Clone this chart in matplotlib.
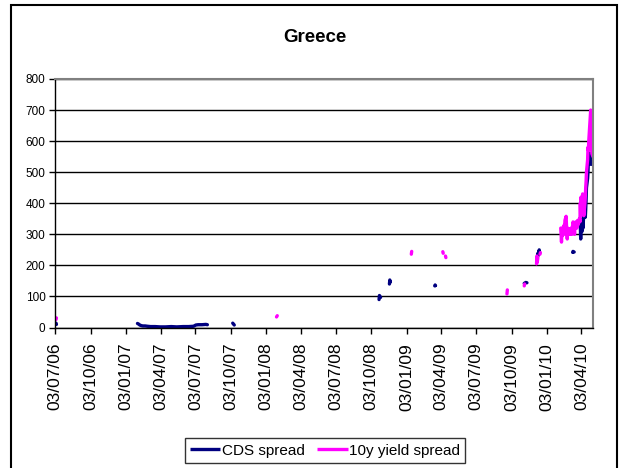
import numpy as np
import pandas as pd
import matplotlib
matplotlib.use("Agg")
import matplotlib.pyplot as plt
import matplotlib.dates as mdates
from matplotlib.patches import Rectangle

plt.rcParams['font.family'] = ['Liberation Sans', 'DejaVu Sans']

GAP = None  # breaks the line between separate stretches of quotes

cds_dates = [
    "2006-07-05", "2006-07-06", GAP,
    "2007-02-02", "2007-02-05", "2007-02-08", "2007-02-12", "2007-02-16",
    "2007-02-22", "2007-02-28", "2007-03-08", "2007-03-20", "2007-04-02",
    "2007-04-16", "2007-05-01", "2007-05-15", "2007-06-01", "2007-06-15",
    "2007-06-28", "2007-07-04", "2007-07-10", "2007-07-20", "2007-07-30",
    "2007-08-03", GAP,
    "2007-10-08", "2007-10-10", "2007-10-12", GAP,
    "2008-10-23", "2008-10-24", "2008-10-27", GAP,
    "2008-11-19", "2008-11-20", "2008-11-21", GAP,
    "2009-03-17", "2009-03-18", "2009-03-19", GAP,
    "2009-11-05", "2009-11-09", "2009-11-12", GAP,
    "2009-12-09", "2009-12-10", "2009-12-11", "2009-12-14", "2009-12-15", GAP,
    "2010-03-11", "2010-03-12", "2010-03-15", GAP,
    "2010-03-31", "2010-04-01", "2010-04-02", "2010-04-05", "2010-04-06",
    "2010-04-07", "2010-04-08", "2010-04-09", "2010-04-12", "2010-04-13",
    "2010-04-14", "2010-04-15", "2010-04-16", "2010-04-19", "2010-04-20",
    "2010-04-21", "2010-04-22", "2010-04-23", "2010-04-26", "2010-04-27",
    "2010-04-28", "2010-04-29", "2010-04-30",
]
cds_values = [
    14, 10, GAP,
    13, 11, 8, 6, 5,
    5, 4, 3, 3, 2,
    2, 3, 2, 3, 3,
    4, 8, 9, 9, 10,
    9, GAP,
    14, 11, 8, GAP,
    90, 103, 97, GAP,
    140, 153, 146, GAP,
    134, 137, 135, GAP,
    142, 145, 144, GAP,
    212, 238, 232, 250, 240, GAP,
    242, 245, 243, GAP,
    330, 285, 340, 310, 350,
    320, 345, 360, 390, 355,
    380, 410, 450, 480, 500,
    540, 560, 530, 560, 545,
    525, 550, 530,
]

yield_dates = [
    "2006-07-05", "2006-07-06", GAP,
    "2008-01-30", "2008-02-01", GAP,
    "2009-01-15", "2009-01-16", GAP,
    "2009-04-07", "2009-04-08", GAP,
    "2009-04-14", "2009-04-15", GAP,
    "2009-09-21", "2009-09-22", GAP,
    "2009-11-05", "2009-11-06", GAP,
    "2009-12-07", "2009-12-08", "2009-12-09", "2009-12-10", GAP,
    "2009-12-16", "2009-12-17", GAP,
    "2010-02-08", "2010-02-09", "2010-02-10", "2010-02-11", "2010-02-12",
    "2010-02-15", "2010-02-16", "2010-02-17", "2010-02-18", "2010-02-19",
    "2010-02-22", "2010-02-23", "2010-02-24", "2010-02-25", "2010-02-26",
    "2010-03-01", "2010-03-02", "2010-03-03", "2010-03-04", "2010-03-05",
    "2010-03-08", "2010-03-09", "2010-03-10", "2010-03-11", "2010-03-12",
    "2010-03-15", "2010-03-16", "2010-03-17", "2010-03-18", "2010-03-19",
    "2010-03-22", "2010-03-23", "2010-03-24", "2010-03-25", "2010-03-26",
    "2010-03-29", "2010-03-30", "2010-03-31", "2010-04-01", "2010-04-02",
    "2010-04-05", "2010-04-06", "2010-04-07", "2010-04-08", "2010-04-09",
    "2010-04-12", "2010-04-13", "2010-04-14", "2010-04-15", "2010-04-16",
    "2010-04-19", "2010-04-20", "2010-04-21", "2010-04-22", "2010-04-23",
    "2010-04-26", "2010-04-27", "2010-04-28", "2010-04-29", "2010-04-30",
    "2010-05-03",
]
yield_values = [
    26, 31, GAP,
    34, 38, GAP,
    236, 245, GAP,
    244, 239, GAP,
    230, 225, GAP,
    108, 121, GAP,
    134, 140, GAP,
    205, 230, 210, 225, GAP,
    236, 241, GAP,
    320, 300, 275, 310, 295,
    325, 300, 330, 315, 345,
    358, 330, 305, 285, 320,
    310, 300, 318, 305, 300,
    310, 300, 325, 305, 340,
    320, 300, 330, 325, 340,
    320, 335, 345, 330, 340,
    350, 340, 400, 360, 420,
    380, 430, 400, 425, 360,
    400, 420, 450, 470, 500,
    540, 580, 570, 600, 620,
    680, 700, 640, 590, 560,
    550,
]

y_ticks = [0, 100, 200, 300, 400, 500, 600, 700, 800]


def to_series(dates, values):
    d = pd.to_datetime([x if x is not None else pd.NaT for x in dates])
    v = np.array([np.nan if x is None else x for x in values], dtype=float)
    # give each break the date of the point before it so the axis stays monotone
    d = pd.Series(d).ffill().values
    return d, v


fig = plt.figure(figsize=(6.19, 4.68), dpi=100)
ax = fig.add_axes([0.0893, 0.3002, 0.9586 - 0.0893, 0.8312 - 0.3002])

cd, cv = to_series(cds_dates, cds_values)
yd, yv = to_series(yield_dates, yield_values)
ax.plot(cd, cv, color="#000080", lw=2.4, solid_capstyle="round",
        solid_joinstyle="round", label="CDS spread")
ax.plot(yd, yv, color="#FF00FF", lw=2.4, solid_capstyle="round",
        solid_joinstyle="round", label="10y yield spread")

ax.set_ylim(0, 800)
ax.set_yticks(y_ticks)
ax.set_xlim(pd.Timestamp("2006-07-03"), pd.Timestamp("2010-05-04"))
ticks = pd.date_range("2006-07-01", "2010-04-01", freq="3MS") + pd.Timedelta(days=2)
ax.set_xticks(ticks)
ax.xaxis.set_major_formatter(mdates.DateFormatter("%d/%m/%y"))
ax.tick_params(axis="x", labelrotation=90, labelsize=12.5, length=4, width=1, pad=7)
ax.tick_params(axis="y", labelsize=8.5, length=4, width=1, pad=3)

ax.grid(axis="y", color="black", lw=1)
ax.set_axisbelow(True)
for side in ("top", "right"):
    ax.spines[side].set_color("#808080")
    ax.spines[side].set_linewidth(1.5)
for side in ("left", "bottom"):
    ax.spines[side].set_color("black")
    ax.spines[side].set_linewidth(1)

fig.text(315 / 619, 1 - 37 / 468, "Greece", ha="center", va="center",
         fontsize=13.5, fontweight="bold")

leg = fig.legend(loc="center", bbox_to_anchor=(325 / 619, 1 - 450.5 / 468), ncol=2,
                 fontsize=11, frameon=True, fancybox=False, edgecolor="black",
                 handlelength=2.0, handletextpad=0.1, columnspacing=0.8,
                 borderpad=0.35, borderaxespad=0)
leg.get_frame().set_linewidth(1)
for h in leg.get_lines():
    h.set_solid_capstyle("butt")

fig.patches.append(Rectangle((11 / 619, -0.02), (617 - 11) / 619, 1 - 4.5 / 468 + 0.02,
                             transform=fig.transFigure, fill=False,
                             edgecolor="black", lw=1.5))

fig.savefig("out.png", dpi=100)
